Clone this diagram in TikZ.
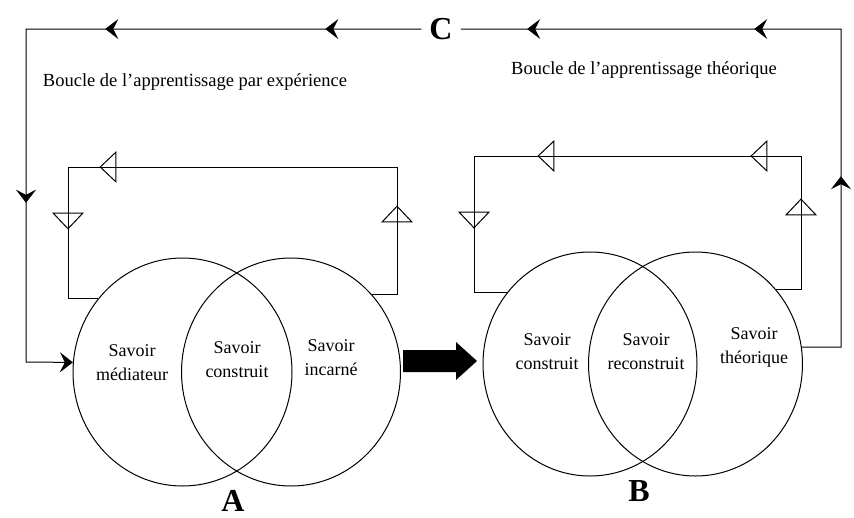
\documentclass[tikz,border=0pt]{standalone}
\usepackage{fontspec}
\setmainfont{Liberation Serif}
\usetikzlibrary{arrows.meta,decorations.markings,shapes.geometric}

\tikzset{
  savoirA/.style={ellipse, draw, line width=1pt, minimum width=219pt, minimum height=228pt, inner sep=0pt},
  savoirB/.style={ellipse, draw, line width=1pt, minimum width=214pt, minimum height=224pt, inner sep=0pt},
  etiquette/.style={align=center, font=\fontsize{18}{24}\selectfont},
  lettre/.style={font=\fontsize{32}{32}\selectfont\bfseries},
  titre/.style={font=\fontsize{18.5}{22}\selectfont},
  boucle/.style={line width=1pt},
  creux/.style={postaction={decorate,decoration={markings,
      mark=at position #1 with {\arrow{Triangle[open,length=17pt,width=32pt]}}}}},
  plein/.style={postaction={decorate,decoration={markings,
      mark=at position #1 with {\arrow{Stealth[length=13pt,width=20pt,inset=5pt]}}}}}
}

\begin{document}
\begin{tikzpicture}[x=1pt,y=-1pt]
\useasboundingbox (0,0) rectangle (854,517);

% ensemble A
\node[savoirA] (A1) at (182.5,372) {};
\node[savoirA] (A2) at (291,372) {};
\node[etiquette] (med) at (132,363) {Savoir\\médiateur};
\node[etiquette] (consA) at (237,360) {Savoir\\construit};
\node[etiquette] (inc) at (331,358) {Savoir\\incarné};
\node[lettre] (A) at (233,501) {A};

% ensemble B
\node[savoirB] (B1) at (590,364) {};
\node[savoirB] (B2) at (695.5,364) {};
\node[etiquette] (consB) at (547,352) {Savoir\\construit};
\node[etiquette] (recons) at (646,352) {Savoir\\reconstruit};
\node[etiquette] (theo) at (754,347) {Savoir\\théorique};
\node[lettre] (B) at (639,491) {B};

% passage de A vers B
\fill (403,350) -- (456,350) -- (456,342) -- (477,361) -- (456,380) -- (456,372) -- (403,372) -- cycle;

% boucles internes
\draw[boucle, creux=114pt, creux=450pt, creux=544pt]
  (A2.44) -| (397,167) -- (68,167) |- (A1.139);
\draw[boucle, creux=116pt, creux=209pt, creux=422pt, creux=558pt]
  (B2.43) -| (801,156) -- (474,156) |- (B1.139);

% grande boucle C
\node[lettre, inner sep=8pt] (C) at (441,29) {C};
\draw[boucle, plein=96pt, plein=316pt, plein=569pt, -{Stealth[length=13pt,width=20pt,inset=5pt]}]
  (C.west) -- (26,29) -- (26,362) -- (A1.175);
\draw[boucle, plein=210pt, plein=444pt, plein=671pt]
  (B2.9) -- (841,347) -- (841,29) -- (C.east);

\node[titre] (expe) at (195,82) {Boucle de l'apprentissage par expérience};
\node[titre] (theor) at (644,70) {Boucle de l'apprentissage théorique};

\end{tikzpicture}
\end{document}
